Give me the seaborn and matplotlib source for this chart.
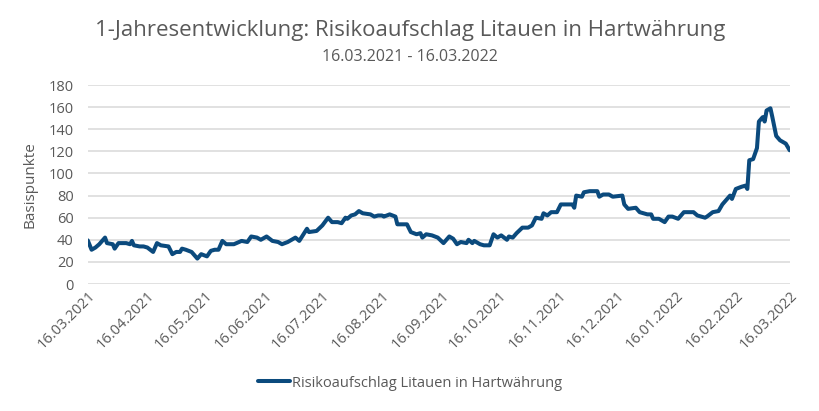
import pandas as pd
import matplotlib
matplotlib.use("Agg")
import matplotlib.pyplot as plt
import matplotlib.dates as mdates
import seaborn as sns

# values (Basispunkte)
dates = [
    "16.03.2021", "18.03.2021", "20.03.2021", "22.03.2021", "25.03.2021", "26.03.2021",
    "29.03.2021", "30.03.2021", "01.04.2021", "05.04.2021", "07.04.2021", "08.04.2021",
    "09.04.2021", "12.04.2021", "14.04.2021", "16.04.2021", "19.04.2021", "21.04.2021",
    "23.04.2021", "27.04.2021", "29.04.2021", "01.05.2021", "03.05.2021", "04.05.2021",
    "06.05.2021", "09.05.2021", "12.05.2021", "14.05.2021", "17.05.2021", "19.05.2021",
    "21.05.2021", "23.05.2021", "25.05.2021", "27.05.2021", "31.05.2021", "04.06.2021",
    "07.06.2021", "09.06.2021", "12.06.2021", "14.06.2021", "17.06.2021", "20.06.2021",
    "23.06.2021", "25.06.2021", "28.06.2021", "02.07.2021", "04.07.2021", "08.07.2021",
    "09.07.2021", "13.07.2021", "16.07.2021", "19.07.2021", "21.07.2021", "24.07.2021",
    "26.07.2021", "28.07.2021", "29.07.2021", "31.07.2021", "02.08.2021", "04.08.2021",
    "06.08.2021", "10.08.2021", "12.08.2021", "14.08.2021", "16.08.2021", "17.08.2021",
    "20.08.2021", "23.08.2021", "24.08.2021", "29.08.2021", "31.08.2021", "03.09.2021",
    "05.09.2021", "06.09.2021", "08.09.2021", "11.09.2021", "14.09.2021", "17.09.2021",
    "20.09.2021", "22.09.2021", "24.09.2021", "26.09.2021", "29.09.2021", "30.09.2021",
    "02.10.2021", "03.10.2021", "06.10.2021", "08.10.2021", "11.10.2021", "13.10.2021",
    "15.10.2021", "17.10.2021", "20.10.2021", "21.10.2021", "23.10.2021", "25.10.2021",
    "28.10.2021", "31.10.2021", "02.11.2021", "04.11.2021", "07.11.2021", "08.11.2021",
    "10.11.2021", "12.11.2021", "15.11.2021", "17.11.2021", "21.11.2021", "23.11.2021",
    "24.11.2021", "25.11.2021", "28.11.2021", "29.11.2021", "02.12.2021", "06.12.2021",
    "07.12.2021", "09.12.2021", "12.12.2021", "14.12.2021", "19.12.2021", "20.12.2021",
    "22.12.2021", "26.12.2021", "28.12.2021", "01.01.2022", "03.01.2022", "04.01.2022",
    "07.01.2022", "10.01.2022", "12.01.2022", "14.01.2022", "17.01.2022", "20.01.2022",
    "25.01.2022", "27.01.2022", "31.01.2022", "01.02.2022", "04.02.2022", "07.02.2022",
    "09.02.2022", "13.02.2022", "14.02.2022", "16.02.2022", "19.02.2022", "21.02.2022",
    "22.02.2022", "23.02.2022", "25.02.2022", "27.02.2022", "28.02.2022", "01.03.2022",
    "02.03.2022", "03.03.2022", "04.03.2022", "06.03.2022", "07.03.2022", "09.03.2022",
    "11.03.2022", "13.03.2022", "14.03.2022", "16.03.2022",
]
spread = [
    39.5, 31, 33, 36, 42, 37,
    36, 32, 37, 37, 36, 39,
    35, 34, 34, 33, 29, 37,
    35, 34, 27, 29, 29, 32,
    31, 29, 23, 27, 25, 30,
    31, 31, 39, 36, 36, 39,
    38, 43, 42, 40, 43, 39,
    38, 36, 38, 42, 39, 50,
    47, 48, 53, 60, 56, 56,
    55, 60, 59, 62, 63, 66,
    64, 63, 61, 62, 62, 61,
    63, 61, 54, 54, 47, 45,
    46, 42, 45, 44, 42, 37,
    43, 41, 36, 38, 37, 40,
    37, 39, 36, 35, 35, 45,
    42, 44, 40, 43, 42, 46,
    51, 51, 53, 60, 59, 64,
    62, 65, 65, 72, 72, 72,
    69, 80, 79, 83, 84, 84,
    79, 81, 81, 79, 80, 72,
    68, 69, 65, 63, 63, 59,
    59, 56, 61, 61, 59, 65,
    65, 62, 60, 61, 65, 66,
    72, 80, 77, 86, 88, 89,
    86, 112, 113, 123, 147, 149,
    151, 147, 157, 159, 151, 134,
    130, 128, 127, 121,
]
tick_dates = [
    "16.03.2021", "16.04.2021", "16.05.2021", "16.06.2021", "16.07.2021",
    "16.08.2021", "16.09.2021", "16.10.2021", "16.11.2021", "16.12.2021",
    "16.01.2022", "16.02.2022", "16.03.2022",
]
series_name = "Risikoaufschlag Litauen in Hartwährung"

df = pd.DataFrame({"Datum": pd.to_datetime(dates, format="%d.%m.%Y"),
                   "Wert": spread,
                   "Reihe": series_name})
ticks = pd.to_datetime(tick_dates, format="%d.%m.%Y")

sns.set_theme(style="whitegrid")
plt.rcParams["font.family"] = ["Open Sans", "DejaVu Sans"]
grey = "#595959"

fig = plt.figure(figsize=(8.2, 4.11), dpi=100)
ax = fig.add_axes([0.107, 0.309, 0.856, 0.484])

sns.lineplot(data=df, x="Datum", y="Wert", hue="Reihe", palette=["#0b4a7d"],
             linewidth=2.9, ax=ax)

ax.set_xlim(ticks[0], ticks[-1])
ax.set_ylim(0, 180)
ax.set_yticks(range(0, 181, 20))
ax.set_xticks(ticks)
ax.xaxis.set_major_formatter(mdates.DateFormatter("%d.%m.%Y"))
ax.grid(axis="x", visible=False)
ax.grid(axis="y", color="#d9d9d9", linewidth=1.1)
for s in ax.spines.values():
    s.set_visible(False)
ax.tick_params(axis="both", length=0, colors=grey, labelsize=10.5)
ax.tick_params(axis="y", pad=10)
ax.tick_params(axis="x", pad=3)
for lab in ax.get_xticklabels():
    lab.set_rotation(45)
    lab.set_ha("right")
    lab.set_rotation_mode("anchor")

ax.set_xlabel("")
ax.set_ylabel("Basispunkte", color=grey, fontsize=11, labelpad=8)

fig.text(0.5, 0.925, "1-Jahresentwicklung: Risikoaufschlag Litauen in Hartwährung",
         ha="center", va="center", fontsize=16, color=grey)
fig.text(0.5, 0.862, "16.03.2021 - 16.03.2022", ha="center", va="center",
         fontsize=11.5, color=grey)

ax.legend(loc="center", bbox_to_anchor=(0.5, 0.068), bbox_transform=fig.transFigure,
          frameon=False, fontsize=10.5, handlelength=2.2, handletextpad=0.1,
          labelcolor=grey)

fig.savefig("out.png", dpi=100)
